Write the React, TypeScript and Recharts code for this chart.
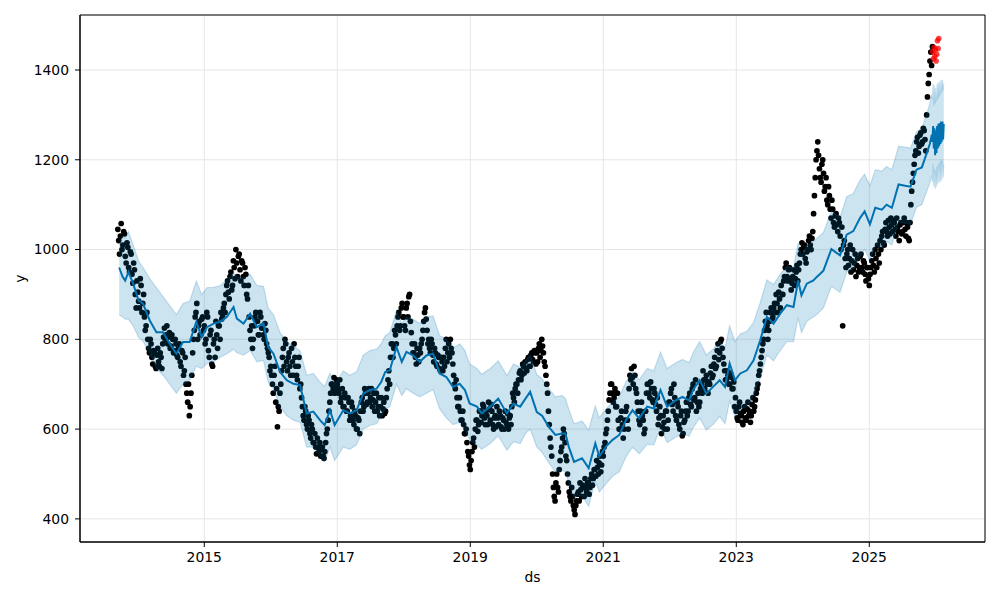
import React from "react";
import {
  ComposedChart,
  Scatter,
  Line,
  Area,
  XAxis,
  YAxis,
  CartesianGrid,
  ReferenceArea,
} from "recharts";

// observed values, one every 0.025 year; the "b" arrays sit half a step later
const obsStep = 0.025;
const obs2013 = [1045, 990, 1058, 1010, 1035, 970, 1005, 950, 990, 925, 955, 870];
const obs2013b = [1020, 1030, 1000, 1040, 985, 1015, 960, 995, 945, 970, 900, 930];
const obs2014 = [
  905, 870, 920, 880, 850, 830, 800, 770, 790, 745,
  770, 735, 780, 740, 760, 790, 825, 810, 790, 815,
  785, 800, 775, 790, 760, 790, 740, 770, 730, 700,
  660, 630, 680, 770, 820, 860, 800, 840, 810, 850,
];
const obs2014b = [
  885, 935, 860, 900, 820, 860, 780, 800, 760, 775,
  740, 765, 750, 770, 735, 805, 800, 830, 805, 780,
  810, 770, 800, 765, 780, 750, 775, 720, 760, 680,
  700, 650, 720, 800, 850, 880, 830, 810, 845, 820,
];
const obs2015 = [
  830, 800, 850, 760, 820, 740, 800, 840, 780, 830,
  860, 850, 880, 900, 930, 890, 950, 920, 960, 1000,
  940, 990, 930, 970, 920, 945, 890, 850, 800, 780,
  830, 860, 840, 810, 850, 830, 800, 820, 780, 760,
];
const obs2015b = [
  790, 860, 775, 810, 745, 790, 760, 810, 830, 800,
  845, 870, 860, 920, 905, 940, 910, 975, 935, 970,
  985, 955, 975, 940, 960, 900, 920, 820, 830, 800,
  850, 840, 810, 860, 825, 810, 835, 790, 770, 730,
];
const obs2016 = [
  740, 700, 720, 660, 605, 640, 700, 760, 740, 790,
  730, 770, 720, 750, 790, 740, 710, 760, 700, 650,
  620, 640, 600, 620, 580, 600, 570, 560, 580, 550,
  540, 560, 535, 570, 600, 640, 680, 700, 715, 690,
];
const obs2016b = [
  720, 680, 740, 690, 650, 680, 730, 780, 800, 750,
  760, 740, 780, 720, 760, 720, 740, 690, 670, 630,
  650, 610, 630, 590, 610, 570, 590, 545, 560, 570,
  555, 540, 550, 590, 620, 660, 700, 690, 680, 710,
];
const obs2017 = [
  700, 680, 660, 690, 650, 670, 640, 660, 630, 650,
  610, 630, 600, 620, 640, 670, 650, 680, 660, 690,
  670, 650, 680, 660, 640, 670, 650, 630, 660, 640,
  690, 730, 760, 790, 780, 810, 830, 860, 830, 880,
];
const obs2017b = [
  690, 710, 670, 650, 680, 640, 670, 620, 660, 620,
  640, 600, 625, 590, 660, 640, 690, 655, 680, 660,
  690, 665, 640, 680, 650, 630, 670, 645, 635, 670,
  710, 700, 790, 760, 820, 790, 850, 820, 870, 850,
];
const obs2018 = [
  850, 820, 880, 895, 840, 790, 770, 760, 780, 750,
  770, 800, 840, 870, 820, 800, 770, 790, 750, 770,
  740, 760, 730, 750, 760, 780, 750, 790, 800, 770,
  720, 690, 670, 650, 640, 620, 610, 590, 570, 540,
];
const obs2018b = [
  830, 870, 850, 900, 815, 770, 790, 745, 765, 780,
  790, 820, 860, 845, 790, 780, 800, 765, 780, 745,
  765, 735, 760, 730, 740, 800, 770, 760, 780, 745,
  700, 710, 650, 670, 620, 640, 590, 600, 550, 520,
];
const obs2019 = [
  510, 550, 580, 600, 620, 610, 640, 630, 650, 610,
  630, 660, 620, 640, 600, 630, 650, 610, 630, 600,
  620, 640, 610, 600, 630, 650, 670, 690, 700, 710,
  730, 720, 740, 750, 730, 760, 740, 770, 750, 770,
];
const obs2019b = [
  530, 570, 560, 620, 595, 640, 615, 655, 625, 640,
  610, 645, 655, 610, 625, 605, 625, 640, 605, 625,
  600, 615, 635, 625, 610, 680, 660, 700, 680, 725,
  710, 745, 725, 735, 755, 740, 765, 755, 775, 745,
];
const obs2020 = [
  770, 780, 760, 800, 770, 740, 700, 640, 580, 540,
  470, 440, 500, 460, 530, 560, 600, 570, 530, 480,
  450, 470, 430, 410, 440, 460, 480, 450, 470, 490,
  460, 480, 470, 500, 490, 510, 530, 500, 540, 520,
];
const obs2020b = [
  750, 790, 775, 785, 750, 720, 680, 610, 560, 500,
  450, 480, 470, 510, 550, 580, 590, 540, 500, 460,
  440, 450, 420, 430, 455, 440, 465, 475, 450, 470,
  480, 455, 490, 475, 510, 495, 515, 525, 505, 550,
];
const obs2021 = [
  540, 570, 600, 640, 680, 700, 660, 690, 650, 620,
  600, 640, 580, 620, 650, 600, 720, 735, 700, 720,
  680, 640, 610, 660, 620, 600, 680, 700, 670, 690,
  660, 680, 640, 610, 650, 590, 630, 600, 640, 620,
];
const obs2021b = [
  560, 590, 620, 665, 700, 680, 670, 650, 680, 600,
  625, 610, 600, 640, 620, 690, 710, 715, 740, 690,
  660, 620, 640, 630, 590, 640, 700, 680, 705, 665,
  690, 655, 670, 625, 630, 605, 615, 640, 600, 660,
];
const obs2022 = [
  660, 690, 640, 670, 620, 650, 600, 640, 590, 620,
  660, 640, 680, 650, 700, 670, 640, 680, 660, 700,
  730, 690, 720, 680, 700, 740, 720, 760, 740, 790,
  770, 800, 760, 730, 710, 720, 700, 715, 690, 650,
];
const obs2022b = [
  680, 655, 700, 630, 660, 610, 630, 585, 615, 640,
  630, 670, 655, 690, 665, 710, 660, 650, 690, 680,
  710, 710, 700, 705, 725, 715, 745, 735, 775, 755,
  795, 780, 745, 710, 730, 700, 725, 690, 705, 670,
];
const obs2023 = [
  640, 620, 660, 630, 610, 650, 620, 660, 640, 630,
  670, 650, 680, 700, 730, 760, 790, 820, 860, 800,
  840, 870, 850, 880, 900, 860, 890, 920, 900, 940,
  970, 930, 960, 910, 940, 920, 950, 930, 970, 1000,
];
const obs2023b = [
  625, 650, 635, 615, 640, 625, 645, 630, 615, 655,
  640, 665, 690, 720, 745, 775, 800, 840, 830, 820,
  860, 845, 870, 860, 880, 905, 870, 900, 930, 960,
  940, 955, 935, 925, 955, 935, 965, 955, 990, 1015,
];
const obs2024 = [
  990, 1010, 970, 1000, 1030, 1000, 1040, 1120, 1200, 1240,
  1180, 1150, 1200, 1130, 1160, 1100, 1120, 1070, 1090, 1050,
  1080, 1040, 1060, 1000, 830, 1020, 960, 1000, 980, 950,
  1000, 970, 940, 980, 960, 990, 950, 970, 930, 960,
];
const obs2024b = [
  1005, 980, 995, 1020, 1010, 1025, 1080, 1160, 1220, 1210,
  1160, 1190, 1170, 1140, 1110, 1140, 1090, 1110, 1060, 1075,
  1055, 1070, 1030, 1050, 1010, 980, 990, 965, 1010, 975,
  955, 990, 965, 950, 985, 960, 975, 945, 960, 935,
];
const obs2025 = [
  920, 960, 990, 950, 980, 1010, 970, 1000, 1040, 1010,
  1060, 1030, 1050, 1070, 1040, 1060, 1030, 1050, 1020, 1060,
  1040, 1070, 1030, 1050, 1020, 1100, 1150, 1190, 1220, 1250,
  1230, 1260, 1240, 1265, 1220, 1340, 1390, 1440, 1452,
];
const obs2025b = [
  945, 975, 965, 1000, 960, 990, 1020, 1030, 1015, 1045,
  1040, 1065, 1035, 1055, 1065, 1045, 1070, 1040, 1055, 1035,
  1060, 1045, 1060, 1025, 1060, 1130, 1170, 1210, 1240, 1215,
  1255, 1235, 1270, 1245, 1300, 1370, 1420, 1410,
];
const obsYears: [number, number[], number[]][] = [
  [2013.7, obs2013, obs2013b], [2014, obs2014, obs2014b], [2015, obs2015, obs2015b],
  [2016, obs2016, obs2016b], [2017, obs2017, obs2017b], [2018, obs2018, obs2018b],
  [2019, obs2019, obs2019b], [2020, obs2020, obs2020b], [2021, obs2021, obs2021b],
  [2022, obs2022, obs2022b], [2023, obs2023, obs2023b], [2024, obs2024, obs2024b],
  [2025, obs2025, obs2025b],
];

// held-out points (red)
const testDates = [2025.955, 2025.965, 2025.975, 2025.985, 2025.995, 2026.005, 2026.015, 2026.025, 2026.035, 2026.045];
const testValues = [1440, 1425, 1450, 1430, 1445, 1420, 1435, 1465, 1448, 1470];

// model fit: yhat with lower / upper bounds
const fcstDates = [
  2013.72, 2013.77, 2013.81, 2013.86, 2013.93, 2014.01, 2014.08, 2014.18, 2014.28, 2014.38,
  2014.48, 2014.58, 2014.68, 2014.78, 2014.88, 2014.96, 2015.04, 2015.14, 2015.24, 2015.34,
  2015.44, 2015.49, 2015.59, 2015.69, 2015.79, 2015.89, 2015.96, 2016.04, 2016.14, 2016.24,
  2016.34, 2016.44, 2016.54, 2016.64, 2016.74, 2016.81, 2016.89, 2016.96, 2017.09, 2017.19,
  2017.29, 2017.39, 2017.49, 2017.59, 2017.66, 2017.72, 2017.79, 2017.89, 2017.97, 2018.04,
  2018.14, 2018.24, 2018.34, 2018.44, 2018.54, 2018.64, 2018.74, 2018.84, 2018.92, 2018.99,
  2019.1, 2019.17, 2019.3, 2019.42, 2019.55, 2019.65, 2019.75, 2019.83, 2019.9, 2020.0,
  2020.08, 2020.18, 2020.28, 2020.38, 2020.43, 2020.48, 2020.56, 2020.68, 2020.78, 2020.88,
  2020.94, 2021.04, 2021.14, 2021.24, 2021.34, 2021.44, 2021.54, 2021.66, 2021.76, 2021.86,
  2021.96, 2022.09, 2022.19, 2022.29, 2022.35, 2022.45, 2022.55, 2022.65, 2022.75, 2022.83,
  2022.9, 2022.98, 2023.06, 2023.16, 2023.26, 2023.36, 2023.46, 2023.56, 2023.66, 2023.76,
  2023.86, 2023.93, 2023.98, 2024.06, 2024.16, 2024.21, 2024.31, 2024.43, 2024.56, 2024.66,
  2024.76, 2024.86, 2024.93, 2025.01, 2025.09, 2025.19, 2025.26, 2025.34, 2025.44, 2025.54,
  2025.62, 2025.71, 2025.79, 2025.86, 2025.91, 2025.94,
  2025.95, 2025.96, 2025.97, 2025.98, 2025.99, 2026.0, 2026.01, 2026.02, 2026.03, 2026.04,
  2026.05, 2026.06, 2026.07, 2026.08, 2026.09, 2026.1, 2026.11, 2026.12,
];
const fcstYhat = [
  960, 940, 931, 950, 924, 887, 879, 842, 816, 816,
  790, 768, 794, 794, 839, 805, 827, 835, 839, 850,
  872, 846, 835, 857, 827, 835, 783, 768, 727, 709,
  701, 698, 635, 639, 620, 609, 642, 609, 642, 635,
  642, 679, 687, 690, 705, 727, 731, 783, 750, 772,
  764, 750, 764, 768, 724, 716, 694, 701, 687, 657,
  650, 635, 650, 668, 635, 657, 650, 668, 683, 638,
  630, 605, 587, 590, 590, 561, 527, 535, 513, 568,
  539, 561, 576, 587, 620, 642, 624, 650, 646, 687,
  650, 664, 672, 664, 687, 709, 679, 694, 709, 694,
  746, 709, 724, 731, 753, 798, 850, 835, 857, 876,
  872, 931, 898, 924, 931, 939, 953, 1001, 987, 1033,
  1041, 1070, 1085, 1056, 1093, 1089, 1100, 1093, 1145, 1142,
  1140, 1178, 1183, 1213, 1235, 1256,
  1240, 1275, 1225, 1270, 1210, 1265, 1215, 1275, 1225, 1280,
  1230, 1282, 1235, 1285, 1240, 1285, 1245, 1280,
];
const fcstLower = [
  855, 850, 845, 845, 830, 805, 795, 770, 735, 720,
  700, 680, 700, 710, 740, 735, 746, 750, 760, 768,
  778, 770, 765, 775, 750, 753, 705, 690, 650, 630,
  620, 615, 560, 560, 540, 528, 560, 530, 560, 555,
  565, 600, 608, 612, 628, 645, 650, 700, 675, 690,
  680, 672, 680, 688, 645, 625, 610, 615, 600, 575,
  565, 555, 568, 585, 553, 572, 568, 590, 600, 560,
  548, 525, 505, 508, 505, 480, 448, 452, 428, 485,
  460, 478, 495, 505, 538, 560, 545, 566, 565, 603,
  570, 582, 590, 584, 603, 625, 598, 610, 628, 612,
  662, 628, 645, 650, 675, 715, 765, 752, 775, 795,
  795, 848, 815, 840, 850, 855, 870, 918, 905, 950,
  958, 985, 1000, 975, 1010, 1005, 1018, 1010, 1062, 1058,
  1056, 1094, 1100, 1128, 1148, 1165,
  1150, 1190, 1140, 1180, 1135, 1175, 1140, 1185, 1145, 1190,
  1150, 1195, 1150, 1200, 1155, 1198, 1160, 1190,
];
const fcstUpper = [
  1010, 1030, 1025, 1040, 1010, 975, 960, 935, 915, 895,
  875, 855, 880, 885, 930, 900, 915, 916, 920, 932,
  948, 940, 935, 945, 920, 918, 870, 855, 815, 795,
  785, 775, 720, 724, 705, 695, 725, 700, 730, 720,
  728, 765, 775, 778, 790, 808, 815, 864, 835, 850,
  845, 835, 850, 852, 808, 800, 780, 790, 775, 745,
  735, 722, 735, 752, 720, 745, 738, 752, 765, 722,
  712, 690, 672, 675, 668, 645, 612, 618, 598, 652,
  625, 645, 660, 672, 705, 728, 710, 735, 730, 772,
  735, 748, 755, 748, 770, 795, 765, 778, 795, 780,
  830, 795, 812, 818, 838, 882, 932, 922, 945, 962,
  960, 1015, 985, 1008, 1018, 1025, 1038, 1085, 1072, 1118,
  1125, 1155, 1168, 1142, 1178, 1175, 1185, 1178, 1230, 1228,
  1226, 1262, 1270, 1300, 1325, 1345,
  1335, 1370, 1320, 1365, 1325, 1360, 1330, 1370, 1335, 1372,
  1340, 1375, 1345, 1378, 1350, 1378, 1355, 1370,
];

const xTicks = [2015, 2017, 2019, 2021, 2023, 2025];
const yTicks = [400, 600, 800, 1000, 1200, 1400];
const xDomain: [number, number] = [2013.131, 2026.74];
const yDomain: [number, number] = [348.5, 1522.5];

const observed = obsYears.flatMap(([start, a, b]) => [
  ...a.map((y, i) => ({ t: +(start + i * obsStep).toFixed(4), y })),
  ...b.map((y, i) => ({ t: +(start + obsStep / 2 + i * obsStep).toFixed(4), y })),
]);
const tested = testDates.map((t, i) => ({ t, y: testValues[i] }));
const forecast = fcstDates.map((t, i) => ({
  t,
  yhat: fcstYhat[i],
  band: [fcstLower[i], fcstUpper[i]],
}));

const FONT = "'DejaVu Sans', sans-serif";
const FS = 13.9;

const blackDot = (p: any) => <circle cx={p.cx} cy={p.cy} r={2.85} fill="#000" />;
const redDot = (p: any) => (
  <circle cx={p.cx} cy={p.cy} r={2.8} fill="#ff0000" fillOpacity={0.75} />
);

export default function App() {
  return (
    <div
      style={{
        position: "absolute",
        left: 0,
        top: 0,
        width: 1000,
        height: 600,
        background: "#fff",
        fontFamily: FONT,
      }}
    >
      <ComposedChart
        width={1000}
        height={600}
        margin={{ top: 15, right: 15, bottom: 0, left: 0 }}
      >
        <CartesianGrid stroke="#e6e6e6" strokeWidth={1} />
        <XAxis
          type="number"
          dataKey="t"
          domain={xDomain}
          ticks={xTicks}
          allowDataOverflow
          height={58}
          tickSize={5}
          tickMargin={5}
          axisLine={{ stroke: "#000" }}
          tickLine={{ stroke: "#000" }}
          tick={{ fill: "#000", fontSize: FS, fontFamily: FONT }}
          label={{
            content: ({ viewBox }: any) => (
              <text
                x={viewBox.x + viewBox.width / 2}
                y={viewBox.y + 39.5}
                textAnchor="middle"
                fontSize={FS}
                fontFamily={FONT}
                fill="#000"
              >
                ds
              </text>
            ),
          }}
        />
        <YAxis
          type="number"
          domain={yDomain}
          ticks={yTicks}
          allowDataOverflow
          width={80}
          tickSize={5}
          tickMargin={6}
          axisLine={{ stroke: "#000" }}
          tickLine={{ stroke: "#000" }}
          tick={{ fill: "#000", fontSize: FS, fontFamily: FONT }}
          label={{
            content: ({ viewBox }: any) => {
              const cx = viewBox.x + 25;
              const cy = viewBox.y + viewBox.height / 2;
              return (
                <text
                  x={cx}
                  y={cy}
                  transform={`rotate(-90, ${cx}, ${cy})`}
                  textAnchor="middle"
                  fontSize={FS}
                  fontFamily={FONT}
                  fill="#000"
                >
                  y
                </text>
              );
            },
          }}
        />
        <Scatter
          data={observed}
          dataKey="y"
          shape={blackDot}
          isAnimationActive={false}
          zIndex={100}
        />
        <Line
          data={forecast}
          dataKey="yhat"
          type="linear"
          stroke="#0072B2"
          strokeWidth={2}
          dot={false}
          activeDot={false}
          isAnimationActive={false}
          zIndex={200}
        />
        <Area
          data={forecast}
          dataKey="band"
          type="linear"
          fill="#0072B2"
          fillOpacity={0.2}
          stroke="#0072B2"
          strokeOpacity={0.2}
          strokeWidth={1.2}
          dot={false}
          activeDot={false}
          isAnimationActive={false}
          zIndex={300}
        />
        <Scatter
          data={tested}
          dataKey="y"
          shape={redDot}
          isAnimationActive={false}
          zIndex={400}
        />
        <ReferenceArea
          x1={xDomain[0]}
          x2={xDomain[1]}
          y1={yDomain[0]}
          y2={yDomain[1]}
          fill="none"
          stroke="#000"
          strokeWidth={1}
          ifOverflow="visible"
          zIndex={500}
        />
      </ComposedChart>
    </div>
  );
}
